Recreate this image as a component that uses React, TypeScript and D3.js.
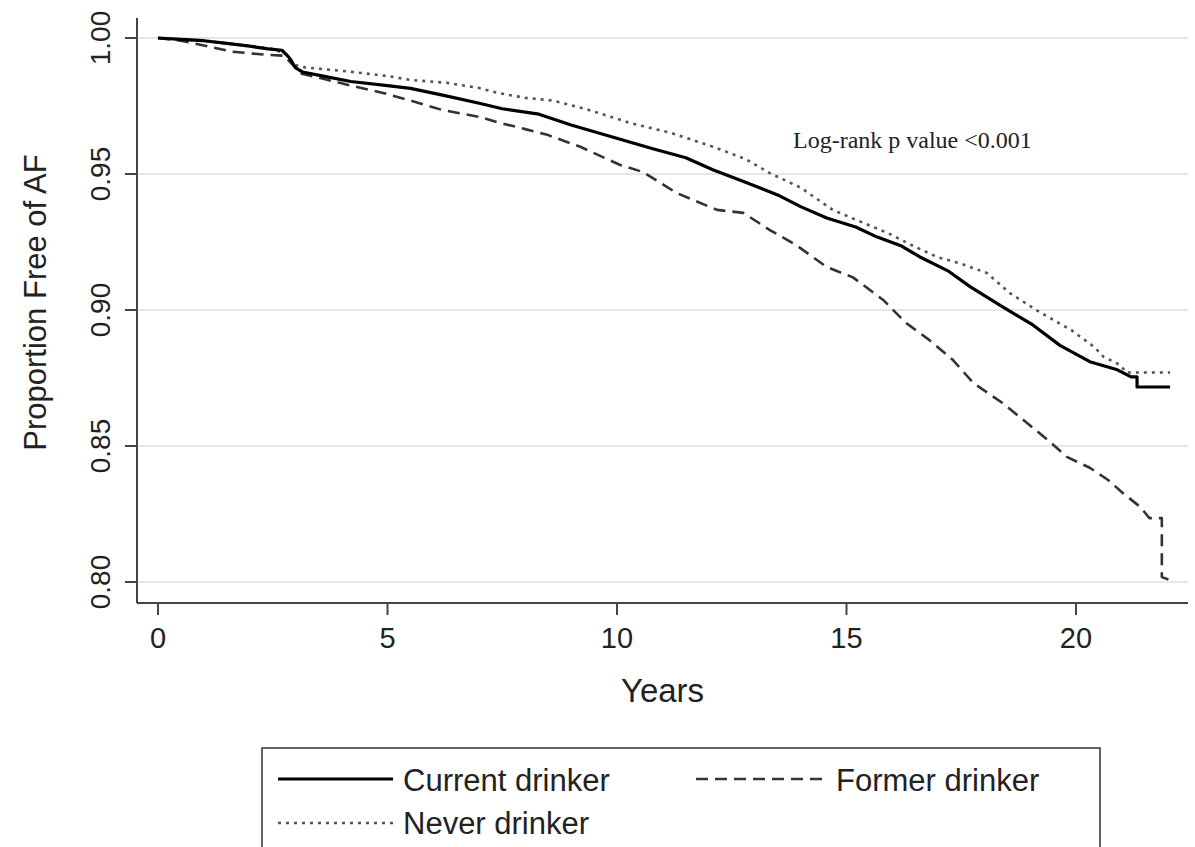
import * as d3 from 'd3';

// Kaplan-Meier curves: [years, proportion free of AF]
const currentDrinker: [number, number][] = [
  [0, 1.0], [0.5, 0.9995], [1.0, 0.999], [1.5, 0.998], [2.0, 0.997], [2.4, 0.996],
  [2.7, 0.9955], [2.85, 0.993], [3.0, 0.989], [3.15, 0.9875], [3.6, 0.986], [4.2, 0.984],
  [5.0, 0.9825], [5.5, 0.9815], [6.2, 0.979], [7.0, 0.976], [7.5, 0.974], [8.3, 0.972],
  [9.0, 0.968], [9.9, 0.9636], [10.8, 0.9592], [11.5, 0.956], [12.1, 0.9515], [12.8, 0.947],
  [13.5, 0.9423], [14.0, 0.938], [14.57, 0.9338], [15.2, 0.9305], [15.67, 0.9268], [16.2, 0.9235],
  [16.6, 0.9195], [17.2, 0.9145], [17.7, 0.9085], [18.34, 0.9018], [19.06, 0.8945],
  [19.65, 0.887], [20.3, 0.881], [20.9, 0.878], [21.2, 0.8754], [21.33, 0.8754],
  [21.33, 0.8717], [22.05, 0.8717],
];

const neverDrinker: [number, number][] = [
  [0, 1.0], [0.5, 0.9995], [1.0, 0.999], [1.5, 0.998], [2.0, 0.997], [2.5, 0.996],
  [2.8, 0.994], [3.0, 0.99], [3.2, 0.9892], [4.2, 0.9876], [5.0, 0.986], [5.5, 0.9846],
  [6.3, 0.9835], [7.0, 0.9816], [7.4, 0.9798], [8.0, 0.978], [8.6, 0.977], [9.3, 0.974],
  [10.3, 0.9687], [11.2, 0.965], [12.1, 0.96], [12.8, 0.9555], [13.33, 0.9503], [14.0, 0.945],
  [14.7, 0.9368], [15.3, 0.9325], [15.9, 0.9283], [16.4, 0.924], [16.97, 0.9195], [17.5, 0.917],
  [18.06, 0.9136], [18.56, 0.9062], [19.2, 0.8993], [19.9, 0.8926], [20.4, 0.8864],
  [20.6, 0.8828], [20.96, 0.8798], [21.1, 0.877], [22.05, 0.877],
];

const formerDrinker: [number, number][] = [
  [0, 1.0], [0.5, 0.999], [1.13, 0.9968], [1.6, 0.995], [2.37, 0.9938], [2.75, 0.9935],
  [3.0, 0.989], [3.1, 0.987], [3.6, 0.985], [4.2, 0.9825], [4.9, 0.9798], [5.5, 0.977],
  [6.2, 0.9735], [7.0, 0.971], [7.4, 0.969], [8.0, 0.9665], [8.5, 0.9643], [9.2, 0.96],
  [10.07, 0.9533], [10.57, 0.9507], [11.3, 0.943], [12.18, 0.9368], [12.75, 0.9357],
  [13.33, 0.9294], [13.9, 0.9239], [14.57, 0.9158], [15.14, 0.912], [15.8, 0.9037],
  [16.3, 0.8952], [16.8, 0.889], [17.32, 0.8816], [17.76, 0.8732], [18.4, 0.8658],
  [19.2, 0.8548], [19.4, 0.852], [19.8, 0.846], [20.3, 0.842], [20.7, 0.8375],
  [21.0, 0.833], [21.4, 0.8276], [21.6, 0.8235], [21.87, 0.8235], [21.87, 0.8018],
  [22.05, 0.8007],
];

const xTicks = [0, 5, 10, 15, 20];
const yTicks = [0.8, 0.85, 0.9, 0.95, 1.0];

const SANS = '"Liberation Sans", Arial, Helvetica, sans-serif';
const SERIF = '"Liberation Serif", "Times New Roman", serif';

const AXIS_LEFT = 137;
const AXIS_RIGHT = 1188;
const AXIS_TOP = 18;
const AXIS_BOTTOM = 603;

export default function App() {
  const x = d3.scaleLinear().domain([0, 20]).range([158, 1076]);
  const y = d3.scaleLinear().domain([0.8, 1.0]).range([582, 38]);

  const line = d3.line<[number, number]>()
    .x(d => x(d[0]))
    .y(d => y(d[1]))
    .curve(d3.curveLinear);

  const series = [
    { name: 'Never drinker', data: neverDrinker, stroke: '#555', width: 2.6, dash: '3,5' },
    { name: 'Former drinker', data: formerDrinker, stroke: '#333', width: 2.6, dash: '12,7' },
    { name: 'Current drinker', data: currentDrinker, stroke: '#000', width: 3.2, dash: undefined },
  ];

  return (
    <svg
      width={1195}
      height={847}
      style={{ position: 'absolute', left: 0, top: 0, display: 'block', background: '#fff' }}
    >
      {/* grid */}
      {yTicks.map(t => (
        <line
          key={`g${t}`}
          x1={AXIS_LEFT} x2={AXIS_RIGHT}
          y1={y(t)} y2={y(t)}
          stroke="#e6e6e6"
          strokeWidth={2}
        />
      ))}

      {/* axes */}
      <line x1={AXIS_LEFT} x2={AXIS_LEFT} y1={AXIS_TOP} y2={AXIS_BOTTOM} stroke="#444" strokeWidth={2} />
      <line x1={AXIS_LEFT} x2={AXIS_RIGHT} y1={AXIS_BOTTOM} y2={AXIS_BOTTOM} stroke="#444" strokeWidth={2} />

      {yTicks.map(t => (
        <g key={`y${t}`}>
          <line x1={AXIS_LEFT - 12} x2={AXIS_LEFT} y1={y(t)} y2={y(t)} stroke="#444" strokeWidth={2} />
          <text
            transform={`translate(110,${y(t)}) rotate(-90)`}
            textAnchor="middle"
            fontFamily={SANS}
            fontSize={28}
            fill="#222"
          >
            {d3.format('.2f')(t)}
          </text>
        </g>
      ))}

      {xTicks.map(t => (
        <g key={`x${t}`}>
          <line x1={x(t)} x2={x(t)} y1={AXIS_BOTTOM} y2={AXIS_BOTTOM + 12} stroke="#444" strokeWidth={2} />
          <text x={x(t)} y={648} textAnchor="middle" fontFamily={SANS} fontSize={29} fill="#222">
            {t}
          </text>
        </g>
      ))}

      <text x={(AXIS_LEFT + AXIS_RIGHT) / 2} y={702} textAnchor="middle" fontFamily={SANS} fontSize={33} fill="#222">
        Years
      </text>
      <text
        transform={`translate(46,${(AXIS_TOP + AXIS_BOTTOM) / 2 - 8}) rotate(-90)`}
        textAnchor="middle"
        fontFamily={SANS}
        fontSize={31}
        fill="#222"
      >
        Proportion Free of AF
      </text>

      {/* curves */}
      {series.map(s => (
        <path
          key={s.name}
          d={line(s.data) ?? ''}
          fill="none"
          stroke={s.stroke}
          strokeWidth={s.width}
          strokeDasharray={s.dash}
          strokeLinejoin="round"
        />
      ))}

      <text x={793} y={148} fontFamily={SERIF} fontSize={24} fill="#222">
        Log-rank p value &lt;0.001
      </text>

      {/* legend */}
      <rect x={262} y={748} width={838} height={130} fill="none" stroke="#333" strokeWidth={1.5} />
      <line x1={278} x2={393} y1={779} y2={779} stroke="#000" strokeWidth={3} />
      <text x={403} y={791} fontFamily={SANS} fontSize={31} fill="#222">Current drinker</text>
      <line x1={696} x2={822} y1={779} y2={779} stroke="#333" strokeWidth={2.6} strokeDasharray="12,7" />
      <text x={836} y={791} fontFamily={SANS} fontSize={31} fill="#222">Former drinker</text>
      <line x1={278} x2={393} y1={823} y2={823} stroke="#555" strokeWidth={2.6} strokeDasharray="3,5" />
      <text x={403} y={834} fontFamily={SANS} fontSize={31} fill="#222">Never drinker</text>
    </svg>
  );
}
